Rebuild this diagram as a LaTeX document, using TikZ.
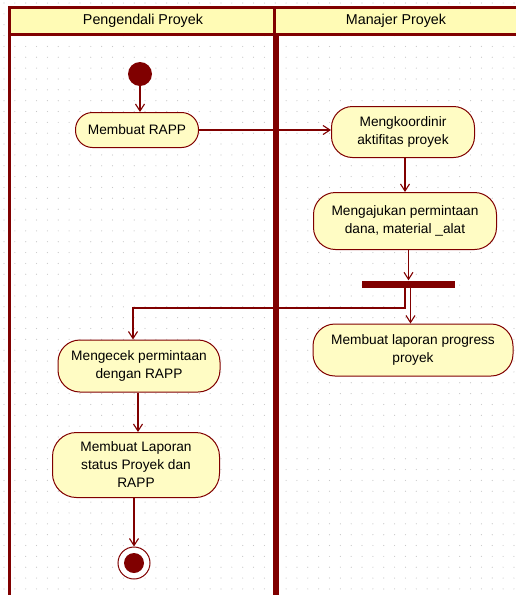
\documentclass[tikz,border=0pt]{standalone}
\usepackage{fontspec}
\setmainfont{Liberation Sans}
\usetikzlibrary{arrows.meta,calc}
\definecolor{umlred}{HTML}{800000}
\definecolor{headfill}{HTML}{FFFBB5}
\definecolor{actfill}{HTML}{FFFCC4}
\definecolor{dotgray}{HTML}{C8C8C8}
\tikzset{
  activity/.style={draw=umlred, line width=1pt, fill=actfill, align=center,
    inner sep=2pt, font=\fontsize{13.7}{18}\selectfont},
  flow/.style={draw=umlred, line width=1.1pt, -{Straight Barb[length=7pt,width=9pt]}},
  lanehead/.style={font=\fontsize{14.3}{16}\selectfont},
}
\begin{document}
\begin{tikzpicture}[x=1pt,y=-1pt]
\useasboundingbox (0,0) rectangle (515,595);
% dotted canvas grid
\foreach \i in {0,...,47}{
  \foreach \j in {0,...,54}{
    \fill[dotgray] ({4+10.85*\i},{3+10.85*\j}) circle (0.6);
  }
}
% swimlane headers
\fill[headfill] (9,7.5) rectangle (520,34.5);
\node[lanehead] (laneA) at (143,21) {Pengendali Proyek};
\node[lanehead] (laneB) at (396,21) {Manajer Proyek};
% swimlane frame
\draw[umlred, line width=3pt] (9,600) -- (9,7.5) -- (520,7.5);
\draw[umlred, line width=3pt] (9,34.5) -- (520,34.5);
\draw[umlred, line width=2.5pt] (274.5,7.5) -- (274.5,34.5);
\draw[umlred, line width=5.5pt] (276,34.5) -- (276,600);

% initial and final states
\node[circle, fill=umlred, minimum size=24pt, inner sep=0pt] (start) at (140,74) {};
\node[circle, draw=umlred, line width=1pt, fill=white, minimum size=32pt, inner sep=0pt] (final) at (134,563) {};
\node[circle, fill=umlred, minimum size=20pt, inner sep=0pt] (finaldot) at (134,563) {};

% activities
\node[activity, minimum width=123pt, minimum height=35pt, rounded corners=17pt] (rapp) at (137,130) {Membuat RAPP};
\node[activity, minimum width=143pt, minimum height=51pt, rounded corners=21pt] (koord) at (403,132) {Mengkoordinir\\aktifitas proyek};
\node[activity, minimum width=183pt, minimum height=57pt, rounded corners=22pt] (ajukan) at (405,221) {Mengajukan permintaan\\dana, material \_alat};
\node[fill=umlred, minimum width=93pt, minimum height=7pt, inner sep=0pt] (bar) at (408.5,284) {};
\node[activity, minimum width=200pt, minimum height=52pt, rounded corners=22pt] (progress) at (413,350) {Membuat laporan progress\\proyek};
\node[activity, minimum width=162pt, minimum height=52pt, rounded corners=22pt] (cek) at (139,366) {Mengecek permintaan\\dengan RAPP};
\node[activity, minimum width=167pt, minimum height=65pt, rounded corners=24pt] (status) at (136,465) {Membuat Laporan\\status Proyek dan\\RAPP};

% fork routing points
\coordinate (forkdown) at (405,308);
\coordinate (forkleft) at (133,308);

% control flows
\draw[flow] (start.south) -- (start.south |- rapp.north);
\draw[flow] (rapp.east) -- (rapp.east -| koord.west);
\draw[flow] (koord.south -| 405,0) -- (405,0 |- ajukan.north);
\draw[flow] (ajukan.south -| bar.north) -- (bar.north);
\draw[flow] (bar.south -| forkdown) -- (forkdown) -- (forkleft) -- (forkleft |- cek.north);
\draw[flow] ([xshift=2pt]bar.south) -- ([xshift=2pt]bar.south |- progress.north);
\draw[flow] (cek.south -| 138,0) -- (138,0 |- status.north);
\draw[flow] (status.south -| final.north) -- (final.north);
\end{tikzpicture}
\end{document}
